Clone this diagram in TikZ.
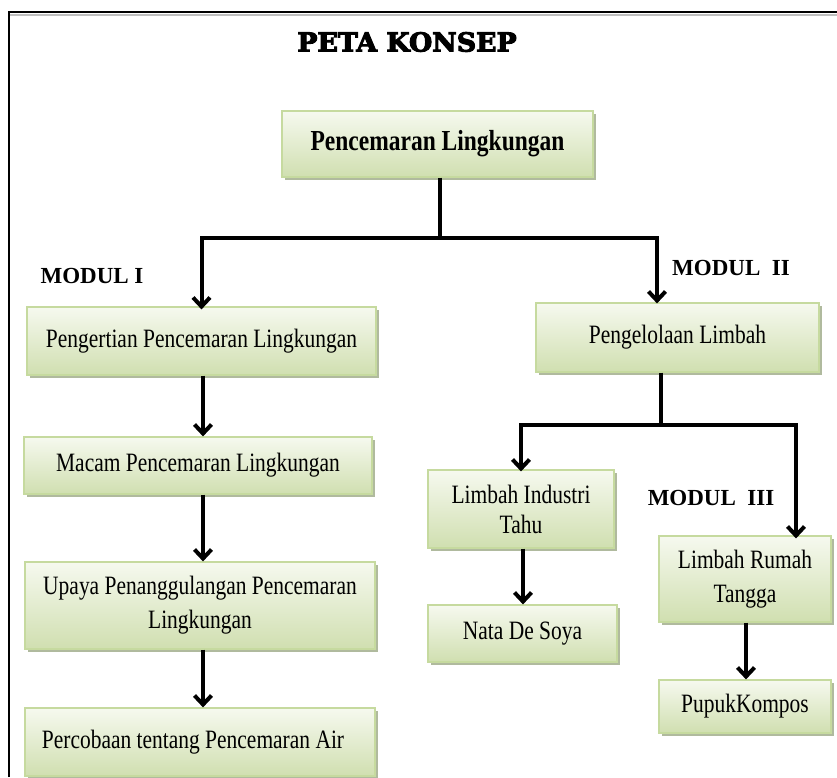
\documentclass[tikz,border=0pt]{standalone}
\usepackage{fontspec}
\setmainfont{Liberation Serif}[FakeStretch=0.81]
\newfontfamily\modulfont{Liberation Serif}
\newfontfamily\titlefont{DejaVu Serif}[FakeStretch=1.03, BoldFeatures={FakeBold=4}]
\usetikzlibrary{arrows.meta, shadows}
\definecolor{boxtop}{HTML}{F6F9EF}
\definecolor{boxbot}{HTML}{D0DFB0}
\definecolor{boxedge}{HTML}{C6DA9F}
\definecolor{boxshade}{HTML}{A7B394}
\tikzset{
    konsep/.style={draw=boxedge, line width=1.2pt, top color=boxtop, bottom color=boxbot,
        drop shadow={shadow xshift=3pt, shadow yshift=-3pt, fill=boxshade, opacity=0.9},
        align=center, inner sep=0pt, font=\fontsize{26.5}{34}\selectfont},
    modul/.style={font=\modulfont\fontsize{23}{27}\selectfont\bfseries},
    branch/.style={line width=4.5pt, line join=miter},
    panah/.style={line width=4pt, line join=miter, -{Straight Barb[length=9pt, width=17pt]}},
    common settings/.style={x=1pt, y=-1pt}
}

\begin{document}
\begin{tikzpicture}[common settings]

    \useasboundingbox (0,0) rectangle (837,777);

    % Frame (only top and left visible)
    \draw[line width=1.5pt, gray!50] (10,15) -- (837,15);
    \draw[line width=2.5pt] (9,777) -- (9,12) -- (837,12);

    % Title
    \node (judul) at (407,42) {\titlefont\fontsize{26}{30}\selectfont\bfseries PETA KONSEP};

    % Main concept
    \node[konsep, minimum width=311pt, minimum height=66pt, font=\fontsize{29}{34}\selectfont\bfseries]
        (utama) at (437.5,144) {Pencemaran Lingkungan};

    % Modul I column
    \node[konsep, minimum width=349pt, minimum height=68pt] (l1) at (201.5,341) {Pengertian Pencemaran Lingkungan};
    \node[konsep, minimum width=348pt, minimum height=57pt] (l2) at (198,465.5) {Macam Pencemaran Lingkungan};
    \node[konsep, minimum width=350pt, minimum height=87pt] (l3) at (200,605.5) {Upaya Penanggulangan Pencemaran\\Lingkungan};
    \node[konsep, minimum width=350pt, minimum height=68pt] (l4) at (200,742) {Percobaan tentang Pencemaran Air\hspace*{14pt}};

    % Modul II column
    \node[konsep, minimum width=283pt, minimum height=69pt] (r1) at (677.5,337.5) {Pengelolaan Limbah};
    \node[konsep, minimum width=186pt, minimum height=78pt, font=\fontsize{26.5}{30}\selectfont] (r2) at (521,509) {Limbah Industri\\Tahu};
    \node[konsep, minimum width=189pt, minimum height=57pt] (r3) at (522.5,633.5) {Nata De Soya};
    \node[konsep, minimum width=172pt, minimum height=86pt] (r4) at (745,579) {Limbah Rumah\\Tangga};
    \node[konsep, minimum width=172pt, minimum height=53pt] (r5) at (745,706.5) {PupukKompos};

    % Modul labels
    \node[modul] (m1) at (92,276) {MODUL I};
    \node[modul] (m2) at (731,268) {MODUL\ \ II};
    \node[modul] (m3) at (711,498) {MODUL\ \ III};

    % Branch from main concept
    \coordinate (j1) at (440,238);
    \draw[branch] (utama.south -| j1) -- (j1);
    \draw[panah] (j1) -| ([yshift=-3pt]l1.north);
    \draw[panah] (j1) -| ([xshift=-20.5pt, yshift=-1pt]r1.north);

    % Modul I chain
    \draw[panah] ([xshift=1.5pt]l1.south) -- ([xshift=1.5pt]l1.south |- l2.north);
    \draw[panah] ([xshift=1.5pt]l1.south |- l2.south) -- ([xshift=1.5pt]l1.south |- l3.north);
    \draw[panah] ([xshift=1.5pt]l1.south |- l3.south) -- ([xshift=1.5pt]l1.south |- l4.north);

    % Branch from Pengelolaan Limbah
    \coordinate (j2) at (661,425);
    \draw[branch] (r1.south -| j2) -- (j2);
    \draw[panah] (j2) -| ([yshift=-2pt]r2.north);
    \draw[panah] (j2) -| ([xshift=51pt, yshift=-3pt]r4.north);

    % Lower chains
    \draw[panah] ([xshift=2pt]r2.south) -- ([xshift=2pt]r2.south |- r3.north);
    \draw[panah] ([xshift=1pt]r4.south) -- ([xshift=1pt]r4.south |- r5.north);

\end{tikzpicture}
\end{document}
